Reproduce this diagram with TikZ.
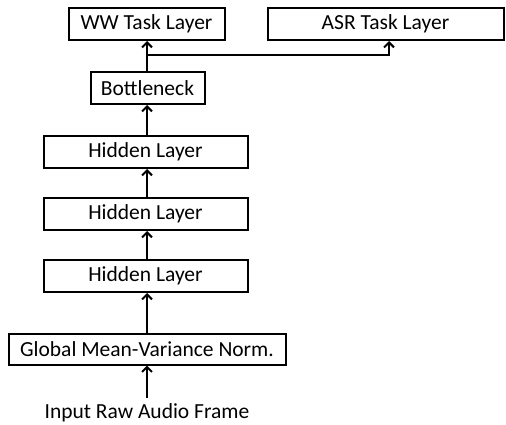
\documentclass[tikz,border=0pt]{standalone}
\usepackage{fontspec}
\setmainfont{Carlito}
\usetikzlibrary{arrows.meta}
\begin{document}
\begin{tikzpicture}[x=1pt,y=-1pt,
  layer/.style={draw,line width=2pt,inner sep=0pt,minimum height=32pt,
    font=\fontsize{21.5}{25}\selectfont},
  conn/.style={line width=2pt,-{Straight Barb[length=5pt,width=10pt,line width=2pt]}}]
\useasboundingbox (0,0) rectangle (506,425);
\node[layer,minimum width=156pt] (ww) at (146.5,24) {WW Task Layer};
\node[layer,minimum width=236pt] (asr) at (385.5,24) {ASR Task Layer};
\node[layer,minimum width=114pt] (bn) at (147.5,88) {Bottleneck};
\node[layer,minimum width=204pt] (h1) at (145.5,152) {Hidden Layer};
\node[layer,minimum width=204pt] (h2) at (145.5,214) {Hidden Layer};
\node[layer,minimum width=204pt] (h3) at (145.5,276) {Hidden Layer};
\node[layer,minimum width=277pt,minimum height=31pt] (gn) at (147,349) {Global Mean-Variance Norm.};
\node[inner sep=0pt,font=\fontsize{21.5}{25}\selectfont] (in) at (147,413) {Input Raw Audio Frame};
\coordinate (br) at (147,55);
\coordinate (inb) at (147,398);
\draw[conn] (bn.north -| br) -- (ww.south -| br);
\draw[conn] (br) -| (389,55) -- (asr.south -| 389,0);
\draw[conn] (h1.north -| br) -- (bn.south -| br);
\draw[conn] (h2.north -| br) -- (h1.south -| br);
\draw[conn] (h3.north -| br) -- (h2.south -| br);
\draw[conn] (gn.north -| br) -- (h3.south -| br);
\draw[conn] (inb) -- (gn.south -| br);
\end{tikzpicture}
\end{document}
